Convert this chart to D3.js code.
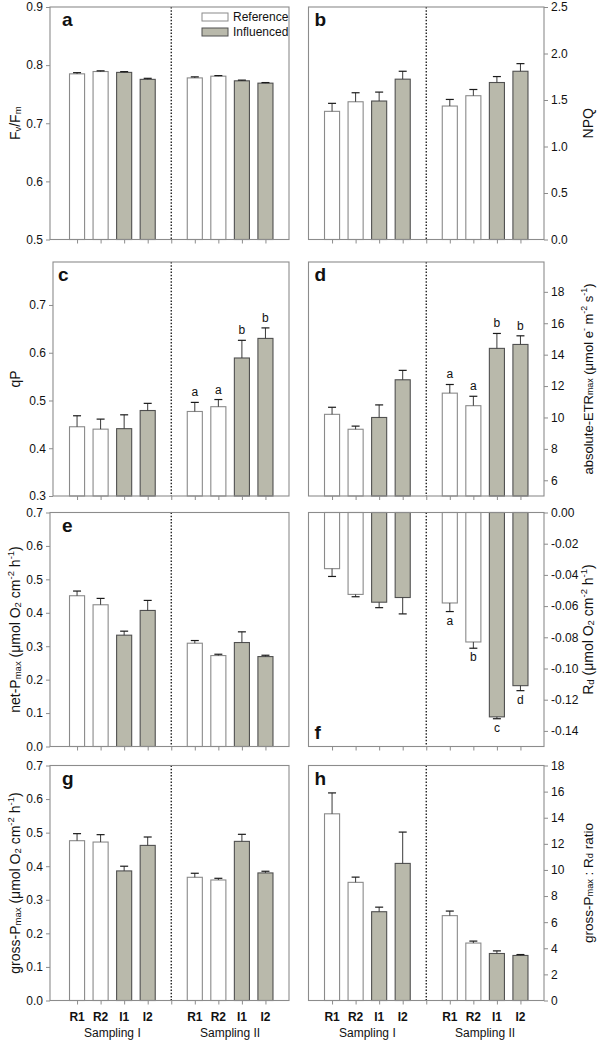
<!DOCTYPE html>
<html><head><meta charset="utf-8">
<script src="https://cdn.jsdelivr.net/npm/d3@7"></script>
<style>
body{margin:0;background:#fff;}
svg{display:block;font-family:"Liberation Sans",Arial,sans-serif;}
</style></head>
<body>
<svg id="chart" width="609" height="1041"></svg>
<script>
// ---------- DATA ----------
const categories = ["R1","R2","I1","I2","R1","R2","I1","I2"];
const groups = ["Reference","Reference","Influenced","Influenced","Reference","Reference","Influenced","Influenced"];
const samplings = ["Sampling I","Sampling II"];
const legendLabels = ["Reference","Influenced"];

const fvfm    = [0.785,0.789,0.7875,0.7755, 0.778,0.781,0.773,0.769];
const fvfmErr = [0.002,0.0012,0.0013,0.0018, 0.0018,0.001,0.0012,0.001];

const npq     = [1.378,1.481,1.489,1.724, 1.435,1.546,1.688,1.809];
const npqErr  = [0.086,0.097,0.096,0.085, 0.071,0.067,0.064,0.082];

const qp      = [0.445,0.440,0.441,0.479, 0.477,0.487,0.589,0.630];
const qpErr   = [0.023,0.021,0.029,0.015, 0.019,0.015,0.037,0.022];
const qpSig   = ["","","","", "a","a","b","b"];

const etr     = [10.2,9.25,10.0,12.4, 11.55,10.75,14.4,14.65];
const etrErr  = [0.45,0.2,0.8,0.6, 0.55,0.6,0.95,0.55];
const etrSig  = ["","","","", "a","a","b","b"];

const netP    = [0.451,0.424,0.333,0.407, 0.309,0.272,0.311,0.269];
const netPErr = [0.014,0.019,0.012,0.030, 0.008,0.004,0.032,0.004];

const rd      = [-0.036,-0.0525,-0.0575,-0.0545, -0.058,-0.083,-0.131,-0.111];
const rdErr   = [0.005,0.0015,0.0035,0.0105, 0.0055,0.004,0.0012,0.0032];
const rdSig   = ["","","","", "a","b","c","d"];

const grossP    = [0.476,0.472,0.386,0.462, 0.367,0.359,0.474,0.380];
const grossPErr = [0.021,0.022,0.014,0.025, 0.012,0.005,0.021,0.005];

const ratio    = [14.3,9.05,6.8,10.5, 6.5,4.4,3.6,3.45];
const ratioErr = [1.6,0.4,0.35,2.4, 0.35,0.15,0.2,0.07];

const ticksA = [0.5,0.6,0.7,0.8,0.9];
const ticksB = [0,0.5,1,1.5,2,2.5];
const ticksC = [0.3,0.4,0.5,0.6,0.7];
const ticksD = [6,8,10,12,14,16,18];
const ticksE = [0,0.1,0.2,0.3,0.4,0.5,0.6,0.7];
const ticksF = [0,-0.02,-0.04,-0.06,-0.08,-0.10,-0.12,-0.14];
const ticksG = [0,0.1,0.2,0.3,0.4,0.5,0.6,0.7];
const ticksH = [0,2,4,6,8,10,12,14,16,18];

// ---------- STYLE / LAYOUT ----------
const FILL = {Reference:"#ffffff", Influenced:"#b9b9ab"};
const STROKE = {Reference:"#8a8a8a", Influenced:"#505050"};
const FRAME = "#8c8c8c";
const cols = [
  {frameL:50, axisL:53.5, R:289, side:"left"},
  {frameL:308.5, axisL:308.5, R:544, side:"right"}
];
const rows = [
  {top:7, bottom:239.5},
  {top:262, bottom:496},
  {top:512.5, bottom:746.5},
  {top:765.5, bottom:1000.5}
];
const slot = i => i < 4 ? i + 1 : i + 2;

const f1 = d => d.toFixed(1);
const f2 = d => (d < 0 ? "-" : "") + Math.abs(d).toFixed(2);
const f0 = d => d.toFixed(0);

const O2 = [["(μmol O",""],["2","sub"],[" cm",""],["-2","sup"],[" h",""],["-1","sup"],[")",""]];
const panels = [
  {letter:"a", col:0, row:0, domain:[0.5,0.9], ticks:ticksA, fmt:f1, vals:fvfm, errs:fvfmErr,
   title:[["F",""],["v","sub"],["/F",""],["m","sub"]], legend:true},
  {letter:"b", col:1, row:0, domain:[0,2.5], ticks:ticksB, fmt:f1, vals:npq, errs:npqErr,
   title:[["NPQ",""]]},
  {letter:"c", col:0, row:1, domain:[0.3,0.79], ticks:ticksC, fmt:f1, vals:qp, errs:qpErr, sig:qpSig,
   title:[["qP",""]], frameL:53},
  {letter:"d", col:1, row:1, domain:[5,19.9], ticks:ticksD, fmt:f0, vals:etr, errs:etrErr, sig:etrSig,
   title:[["absolute-ETR",""],["max","sub"],[" (μmol e",""],["-","sup"],[" m",""],["-2","sup"],[" s",""],["-1","sup"],[")",""]], titleSize:13},
  {letter:"e", col:0, row:2, domain:[0,0.7], ticks:ticksE, fmt:f1, vals:netP, errs:netPErr,
   title:[["net-P",""],["max","sub"],[" ",""]].concat(O2)},
  {letter:"f", col:1, row:2, domain:[-0.15,0], ticks:ticksF, fmt:f2, vals:rd, errs:rdErr, sig:rdSig,
   title:[["R",""],["d","sub"],[" ",""]].concat(O2), letterBottom:true},
  {letter:"g", col:0, row:3, domain:[0,0.7], ticks:ticksG, fmt:f1, vals:grossP, errs:grossPErr,
   title:[["gross-P",""],["max","sub"],[" ",""]].concat(O2), cats:true},
  {letter:"h", col:1, row:3, domain:[0,18], ticks:ticksH, fmt:f0, vals:ratio, errs:ratioErr,
   title:[["gross-P",""],["max","sub"],[" : R",""],["d","sub"],[" ratio",""]], cats:true, titleSize:13.5}
];

const svg = d3.select("#chart");

function richText(sel, parts, size) {
  parts.forEach(([t, type]) => {
    const ts = sel.append("tspan").text(t);
    if (type === "sub") ts.attr("font-size", size*0.68).attr("baseline-shift", "-25%");
    else if (type === "sup") ts.attr("font-size", size*0.68).attr("baseline-shift", "45%");
  });
}

panels.forEach(p => {
  const c = cols[p.col], r = rows[p.row];
  const frameL = p.frameL || c.frameL;
  const x = d3.scaleLinear().domain([0,10]).range([c.axisL, c.R]);
  const y = d3.scaleLinear().domain(p.domain).range([r.bottom, r.top]);
  const g = svg.append("g");
  const barW = (x(1) - x(0)) * 0.64;
  const base = p.domain[0] < 0 ? 0 : p.domain[0];

  // bars
  g.selectAll("rect.bar").data(p.vals).join("rect")
    .attr("x", (d,i) => x(slot(i)) - barW/2)
    .attr("width", barW)
    .attr("y", d => Math.min(y(d), y(base)))
    .attr("height", d => Math.abs(y(d) - y(base)))
    .attr("fill", (d,i) => FILL[groups[i]])
    .attr("stroke", (d,i) => STROKE[groups[i]])
    .attr("stroke-width", 1.1);

  // error bars
  const eb = g.selectAll("g.err").data(p.vals).join("g");
  const tip = (d,i) => d < 0 ? d - p.errs[i] : d + p.errs[i];
  eb.append("line")
    .attr("x1", (d,i) => x(slot(i))).attr("x2", (d,i) => x(slot(i)))
    .attr("y1", d => y(d)).attr("y2", (d,i) => y(tip(d,i)))
    .attr("stroke", "#3a3a3a").attr("stroke-width", 1);
  eb.append("line")
    .attr("x1", (d,i) => x(slot(i)) - 4).attr("x2", (d,i) => x(slot(i)) + 4)
    .attr("y1", (d,i) => y(tip(d,i))).attr("y2", (d,i) => y(tip(d,i)))
    .attr("stroke", "#1a1a1a").attr("stroke-width", 1.2);

  // significance letters
  if (p.sig) {
    g.selectAll("text.sig").data(p.vals).join("text")
      .attr("x", (d,i) => x(slot(i)))
      .attr("y", (d,i) => d < 0 ? y(tip(d,i)) + 13 : y(tip(d,i)) - 6)
      .attr("text-anchor", "middle").attr("font-size", 12).attr("fill", "#111")
      .text((d,i) => p.sig[i]);
  }

  // divider
  g.append("line")
    .attr("x1", x(5)).attr("x2", x(5)).attr("y1", r.top).attr("y2", r.bottom)
    .attr("stroke", "#111").attr("stroke-width", 1.3).attr("stroke-dasharray", "1.5,1.7");

  // frame
  g.append("rect").attr("x", frameL).attr("y", r.top)
    .attr("width", c.R - frameL).attr("height", r.bottom - r.top)
    .attr("fill", "none").attr("stroke", FRAME).attr("stroke-width", 1.1);

  // y axis
  const ax = (c.side === "left" ? d3.axisLeft(y) : d3.axisRight(y))
    .tickValues(p.ticks).tickFormat(p.fmt).tickSize(4).tickPadding(3).tickSizeOuter(0);
  const ag = g.append("g")
    .attr("transform", `translate(${c.side === "left" ? frameL : c.R},0)`)
    .call(ax);
  ag.select(".domain").remove();
  ag.selectAll(".tick line").attr("stroke", FRAME);
  ag.selectAll(".tick text").attr("font-size", 12).attr("fill", "#111")
    .attr("font-family", "'Liberation Sans', Arial, sans-serif");

  // bottom ticks
  const bx = d3.axisBottom(x).tickValues([1,2,3,4,5,6,7,8,9]).tickFormat("").tickSize(4).tickSizeOuter(0);
  const bg = g.append("g").attr("transform", `translate(0,${r.bottom})`).call(bx);
  bg.select(".domain").remove();
  bg.selectAll(".tick line").attr("stroke", FRAME);

  // panel letter
  g.append("text")
    .attr("x", frameL + (p.col === 0 ? (p.frameL ? 5 : 12) : 6))
    .attr("y", p.letterBottom ? r.bottom - 8 : r.top + 19)
    .attr("font-size", 19).attr("font-weight", "bold").attr("fill", "#111")
    .text(p.letter);

  // axis title
  const size = p.titleSize || 14;
  const tx = c.side === "left" ? 15 : 588;
  const ty = (r.top + r.bottom) / 2;
  const t = g.append("text")
    .attr("transform", `translate(${tx},${ty}) rotate(-90)`)
    .attr("text-anchor", "middle").attr("dominant-baseline", "central")
    .attr("font-size", size).attr("fill", "#111");
  richText(t, p.title, size);

  // legend
  if (p.legend) {
    legendLabels.forEach((lab, k) => {
      const ly = r.top + 6 + k * 15;
      g.append("rect").attr("x", 202).attr("y", ly).attr("width", 26).attr("height", 8)
        .attr("fill", FILL[lab]).attr("stroke", STROKE[lab]).attr("stroke-width", 1);
      g.append("text").attr("x", 233).attr("y", ly + 8).attr("font-size", 12).attr("fill", "#111").text(lab);
    });
  }

  // category labels
  if (p.cats) {
    g.selectAll("text.cat").data(categories).join("text")
      .attr("x", (d,i) => x(slot(i))).attr("y", r.bottom + 20)
      .attr("text-anchor", "middle").attr("font-size", 12).attr("font-weight", "bold").attr("fill", "#111")
      .text(d => d);
    g.selectAll("text.samp").data(samplings).join("text")
      .attr("x", (d,k) => x(k === 0 ? 2.5 : 7.5)).attr("y", r.bottom + 36)
      .attr("text-anchor", "middle").attr("font-size", 12).attr("fill", "#111")
      .text(d => d);
  }
});
</script>
</body></html>
